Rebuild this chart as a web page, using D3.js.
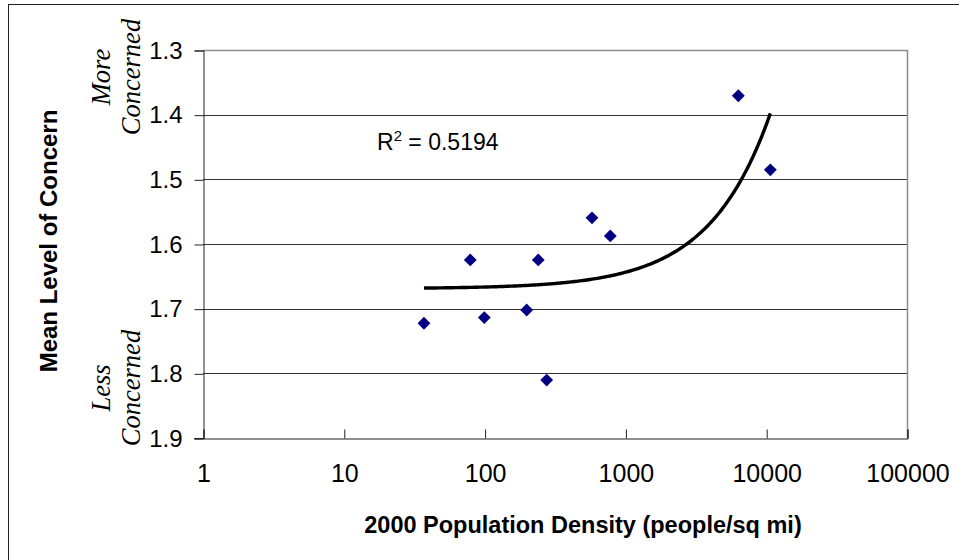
<!DOCTYPE html>
<html>
<head>
<meta charset="utf-8">
<script src="https://cdn.jsdelivr.net/npm/d3@7"></script>
<style>
  html, body { margin: 0; padding: 0; background: #fff; }
  svg { display: block; }
</style>
</head>
<body>
<svg id="chart" width="959" height="560"></svg>
<script>
// Population density (people per square mile, 2000) for each area
const density = [37.1, 79.1, 99.5, 199, 240.5, 276, 579, 781, 6340, 10700];
// Mean level of concern for the same areas (lower = more concerned)
const concern = [1.7226, 1.6246, 1.7138, 1.702, 1.6246, 1.8104, 1.5596, 1.5875, 1.3707, 1.4853];

const xTicks = [1, 10, 100, 1000, 10000, 100000];
const yTicks = [1.3, 1.4, 1.5, 1.6, 1.7, 1.8, 1.9];
const rSquaredLabel = "0.5194";

const svg = d3.select("#chart");
const plot = { left: 203, right: 907, top: 50, bottom: 438 };

const x = d3.scaleLog().domain([1, 100000]).range([plot.left, plot.right]);
const y = d3.scaleLinear().domain([1.3, 1.9]).range([plot.top, plot.bottom]);

const sans = "Arial, 'Liberation Sans', sans-serif";

// outer chart frame
svg.append("rect")
  .attr("x", 8.5).attr("y", 4.5)
  .attr("width", 1000).attr("height", 700)
  .attr("fill", "none").attr("stroke", "#222").attr("stroke-width", 1);

// horizontal gridlines
svg.append("g")
  .selectAll("line")
  .data(yTicks.slice(1, -1))
  .join("line")
  .attr("x1", plot.left).attr("x2", plot.right)
  .attr("y1", d => Math.round(y(d)) + 0.5).attr("y2", d => Math.round(y(d)) + 0.5)
  .attr("stroke", "#333").attr("stroke-width", 1.2);

// plot area border (top and right in gray)
svg.append("path")
  .attr("d", `M${plot.left},${plot.top + 0.5}H${plot.right + 0.5}V${plot.bottom}`)
  .attr("fill", "none").attr("stroke", "#8c8c8c").attr("stroke-width", 1.5);

// y axis: outward ticks
const yAxis = d3.axisLeft(y).tickValues(yTicks).tickSize(9).tickPadding(12)
  .tickFormat(d3.format(".1f"));
const gy = svg.append("g")
  .attr("transform", `translate(${plot.left + 0.5},0.5)`)
  .call(yAxis);
gy.select(".domain").attr("stroke", "#222");
gy.selectAll(".tick line").attr("stroke", "#222");
gy.selectAll("text")
  .attr("font-family", sans)
  .attr("font-size", 24).attr("fill", "#000");

// x axis: inward ticks
const xAxis = d3.axisBottom(x).tickValues(xTicks).tickSize(-9).tickPadding(26)
  .tickFormat(d3.format("d"));
const gx = svg.append("g")
  .attr("transform", `translate(0.5,${plot.bottom + 0.5})`)
  .call(xAxis);
gx.select(".domain").attr("stroke", "#222");
gx.selectAll(".tick line").attr("stroke", "#222");
gx.selectAll("text")
  .attr("font-family", sans)
  .attr("font-size", 25).attr("fill", "#000");
// extend the x axis line left to meet the lowest y tick
svg.append("line")
  .attr("x1", plot.left - 9).attr("x2", plot.left)
  .attr("y1", plot.bottom + 0.5).attr("y2", plot.bottom + 0.5)
  .attr("stroke", "#222");

// linear least-squares trend of concern on density
const n = density.length;
const mx = d3.mean(density), my = d3.mean(concern);
let sxy = 0, sxx = 0;
for (let i = 0; i < n; i++) {
  sxy += (density[i] - mx) * (concern[i] - my);
  sxx += (density[i] - mx) ** 2;
}
const slope = sxy / sxx;
const intercept = my - slope * mx;
const [xmin, xmax] = d3.extent(density);
const trendPts = d3.range(0, 201).map(i => {
  const v = xmin * Math.pow(xmax / xmin, i / 200);
  return [v, intercept + slope * v];
});
svg.append("path")
  .datum(trendPts)
  .attr("d", d3.line().x(d => x(d[0])).y(d => y(d[1])))
  .attr("fill", "none").attr("stroke", "#000").attr("stroke-width", 3.4)
  .attr("stroke-linejoin", "round");

// data points as navy diamonds
const diamond = d3.symbol().type(d3.symbolDiamond2).size(105);
svg.append("g")
  .selectAll("path")
  .data(density.map((d, i) => [d, concern[i]]))
  .join("path")
  .attr("transform", d => `translate(${x(d[0])},${y(d[1])})`)
  .attr("d", diamond)
  .attr("fill", "#000080");

// R-squared annotation
const r2 = svg.append("text")
  .attr("x", 377).attr("y", 150)
  .attr("font-family", sans)
  .attr("font-size", 23).attr("fill", "#000");
r2.append("tspan").text("R");
r2.append("tspan").attr("font-size", 15).attr("dy", -9).text("2");
r2.append("tspan").attr("dy", 9).text(" = " + rSquaredLabel);

// axis titles
svg.append("text")
  .attr("x", 583).attr("y", 533)
  .attr("text-anchor", "middle")
  .attr("font-family", sans)
  .attr("font-weight", "bold").attr("font-size", 23.5).attr("fill", "#000")
  .text("2000 Population Density (people/sq mi)");

svg.append("text")
  .attr("transform", "translate(57,241) rotate(-90)")
  .attr("text-anchor", "middle")
  .attr("font-family", sans)
  .attr("font-weight", "bold").attr("font-size", 24).attr("fill", "#000")
  .text("Mean Level of Concern");

// direction hints beside the y axis
function hint(cy, lines) {
  const t = svg.append("text")
    .attr("transform", `translate(110,${cy}) rotate(-90)`)
    .attr("text-anchor", "middle")
    .attr("font-family", "'Times New Roman', 'Liberation Serif', serif")
    .attr("font-style", "italic").attr("font-size", 26.5).attr("fill", "#000");
  lines.forEach((s, i) => {
    t.append("tspan").attr("x", 0).attr("dy", i === 0 ? 0 : 30).text(s);
  });
}
hint(77, ["More", "Concerned"]);
hint(388, ["Less", "Concerned"]);
</script>
</body>
</html>
